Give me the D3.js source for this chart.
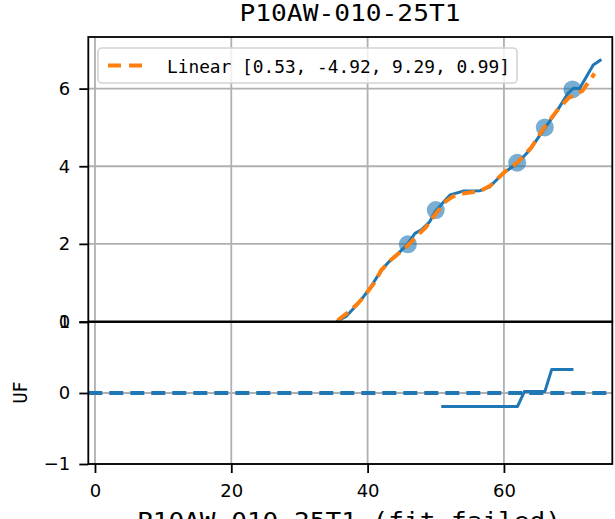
<!DOCTYPE html>
<html>
<head>
<meta charset="utf-8">
<script src="https://cdn.jsdelivr.net/npm/d3@7"></script>
<style>
  html, body { margin: 0; padding: 0; background: #ffffff; }
  svg { display: block; }
</style>
</head>
<body>
<svg id="chart" width="615" height="519"></svg>
<script>
// ---------- data ----------
const titleText = "P10AW-010-25T1";
const xLabelText = "P10AW-010-25T1 (fit-failed)";
const yLabelBottom = "UF";
const legendLabel = "Linear [0.53, -4.92, 9.29, 0.99]";

// measured curve (blue solid)
const curveX = [35.45, 36.9, 38.0, 39.4, 40.5, 42.05, 43.2, 44.25, 45.8, 46.95, 47.9, 49.1, 49.9, 51.0, 52.1, 54.0, 56.5, 57.9, 59.9, 61.85, 63.8, 66.0, 67.7, 69.4, 70.2, 71.1, 73.1, 74.3];
const curveY = [0.0, 0.14, 0.35, 0.64, 0.9, 1.33, 1.55, 1.71, 1.98, 2.27, 2.36, 2.57, 2.83, 3.05, 3.26, 3.36, 3.37, 3.47, 3.82, 4.06, 4.42, 4.98, 5.40, 5.88, 6.01, 6.0, 6.61, 6.75];

// fitted curve (orange dashed)
const fitX = [35.6, 37.0, 38.5, 39.5, 41.0, 42.0, 43.5, 45.0, 46.0, 47.5, 48.5, 50.0, 51.5, 52.5, 54.0, 56.5, 58.0, 60.0, 62.0, 64.0, 66.0, 68.0, 69.5, 70.5, 71.5, 73.3];
const fitY = [0.03, 0.22, 0.45, 0.65, 1.0, 1.32, 1.6, 1.82, 1.98, 2.25, 2.42, 2.78, 3.1, 3.22, 3.3, 3.36, 3.5, 3.84, 4.1, 4.48, 5.02, 5.48, 5.76, 5.86, 5.94, 6.39];

// markers (blue circles)
const markerX = [45.9, 50.0, 61.95, 66.0, 70.05];
const markerY = [1.99, 2.87, 4.09, 5.0, 5.98];

// UF residual line (bottom panel)
const ufX = [50.8, 62.0, 63.0, 66.0, 67.0, 70.2];
const ufY = [-0.19, -0.19, 0.02, 0.02, 0.33, 0.33];
const ufRef = [0, 0];

// ticks
const xTicks = [0, 20, 40, 60];
const yTicksTop = [0, 2, 4, 6];
const yTicksBottom = [-1, 0, 1];

// ---------- layout ----------
const L = 88.3, R = 612.3;
const topT = 37, topB = 321.5;
const botT = 322, botB = 464;
const blue = "#1f77b4", orange = "#ff7f0e", gridC = "#b0b0b0";
const tickFont = "'DejaVu Sans', sans-serif";
const jpFont = "'DejaVu Sans Mono', monospace";

const svg = d3.select("#chart");

const x = d3.scaleLinear().domain([-0.98, 75.9]).range([L, R]);
const yTop = d3.scaleLinear().domain([0, 7.33]).range([topB, topT]);
const yBot = d3.scaleLinear().domain([-1, 1]).range([botB, botT]);

// clip paths
const defs = svg.append("defs");
defs.append("clipPath").attr("id", "clipTop").append("rect")
  .attr("x", L).attr("y", topT).attr("width", R - L).attr("height", topB - topT);
defs.append("clipPath").attr("id", "clipBot").append("rect")
  .attr("x", L).attr("y", botT).attr("width", R - L).attr("height", botB - botT);

// ---------- grids ----------
function grid(g, yScale, yTicks, y0, y1) {
  g.selectAll("line.vx").data(xTicks).enter().append("line")
    .attr("x1", d => x(d)).attr("x2", d => x(d))
    .attr("y1", y0).attr("y2", y1)
    .attr("stroke", gridC).attr("stroke-width", 1.8);
  g.selectAll("line.hy").data(yTicks).enter().append("line")
    .attr("x1", L).attr("x2", R)
    .attr("y1", d => yScale(d)).attr("y2", d => yScale(d))
    .attr("stroke", gridC).attr("stroke-width", 1.8);
}
grid(svg.append("g"), yTop, yTicksTop, topT, topB);
grid(svg.append("g"), yBot, yTicksBottom, botT, botB);

// ---------- top panel data ----------
const gTop = svg.append("g").attr("clip-path", "url(#clipTop)");
gTop.selectAll("circle").data(markerX).enter().append("circle")
  .attr("cx", d => x(d)).attr("cy", (d, i) => yTop(markerY[i]))
  .attr("r", 9).attr("fill", blue).attr("fill-opacity", 0.6);

const lineTop = d3.line().x(d => x(d[0])).y(d => yTop(d[1]));
gTop.append("path")
  .attr("d", lineTop(curveX.map((v, i) => [v, curveY[i]])))
  .attr("fill", "none").attr("stroke", blue).attr("stroke-width", 3)
  .attr("stroke-linejoin", "round");
gTop.append("path")
  .attr("d", lineTop(fitX.map((v, i) => [v, fitY[i]])))
  .attr("fill", "none").attr("stroke", orange).attr("stroke-width", 4)
  .attr("stroke-dasharray", "13,7");

// ---------- bottom panel data ----------
const gBot = svg.append("g").attr("clip-path", "url(#clipBot)");
const lineBot = d3.line().x(d => x(d[0])).y(d => yBot(d[1]));
gBot.append("path")
  .attr("d", lineBot([[x.domain()[0], ufRef[0]], [x.domain()[1], ufRef[1]]]))
  .attr("fill", "none").attr("stroke", blue).attr("stroke-width", 4)
  .attr("stroke-dasharray", "14,7");
gBot.append("path")
  .attr("d", lineBot(ufX.map((v, i) => [v, ufY[i]])))
  .attr("fill", "none").attr("stroke", blue).attr("stroke-width", 3)
  .attr("stroke-linejoin", "round");

// ---------- axes ----------
function styleAxis(g) {
  g.select(".domain").remove();
  g.selectAll(".tick line").attr("stroke", "#000").attr("stroke-width", 1.8);
  g.selectAll(".tick text").attr("fill", "#000")
    .style("font-family", tickFont).style("font-size", "18px");
}
const fmt = d => d < 0 ? "\u2212" + Math.abs(d) : String(d);

svg.append("g").attr("transform", `translate(${L},0)`)
  .call(d3.axisLeft(yTop).tickValues(yTicksTop).tickFormat(fmt).tickSize(9).tickPadding(9))
  .call(styleAxis);
svg.append("g").attr("transform", `translate(${L},0)`)
  .call(d3.axisLeft(yBot).tickValues(yTicksBottom).tickFormat(fmt).tickSize(9).tickPadding(9))
  .call(styleAxis);
svg.append("g").attr("transform", `translate(0,${botB})`)
  .call(d3.axisBottom(x).tickValues(xTicks).tickFormat(fmt).tickSize(9).tickPadding(11))
  .call(styleAxis);

// spines
function spines(y0, y1) {
  svg.append("rect").attr("x", L).attr("y", y0).attr("width", R - L).attr("height", y1 - y0)
    .attr("fill", "none").attr("stroke", "#000").attr("stroke-width", 1.8);
}
spines(topT, topB);
spines(botT, botB);

// ---------- legend ----------
const lg = svg.append("g");
lg.append("rect").attr("x", 98).attr("y", 48).attr("width", 419).attr("height", 35)
  .attr("rx", 4).attr("fill", "#fff").attr("fill-opacity", 0.8)
  .attr("stroke", "#d4d4d4").attr("stroke-width", 1.6);
lg.append("line").attr("x1", 108).attr("x2", 143).attr("y1", 65.5).attr("y2", 65.5)
  .attr("stroke", orange).attr("stroke-width", 4).attr("stroke-dasharray", "13,8");
lg.append("text").attr("x", 167).attr("y", 73.3)
  .attr("textLength", 343).attr("lengthAdjust", "spacingAndGlyphs")
  .style("font-family", jpFont).style("font-size", "17.5px").attr("fill", "#000")
  .text(legendLabel);

// ---------- labels ----------
svg.append("text").attr("x", 350).attr("y", 21)
  .attr("text-anchor", "middle").attr("textLength", 221).attr("lengthAdjust", "spacingAndGlyphs")
  .style("font-family", jpFont).style("font-size", "23.5px").attr("fill", "#000")
  .text(titleText);
svg.append("text").attr("x", 349).attr("y", 529)
  .attr("text-anchor", "middle").attr("textLength", 424).attr("lengthAdjust", "spacingAndGlyphs")
  .style("font-family", jpFont).style("font-size", "23.5px").attr("fill", "#000")
  .text(xLabelText);
svg.append("text")
  .attr("transform", `translate(27.3,392.5) rotate(-90)`)
  .attr("text-anchor", "middle").attr("textLength", 22).attr("lengthAdjust", "spacingAndGlyphs")
  .style("font-family", jpFont).style("font-size", "20px").attr("fill", "#000")
  .text(yLabelBottom);
</script>
</body>
</html>
